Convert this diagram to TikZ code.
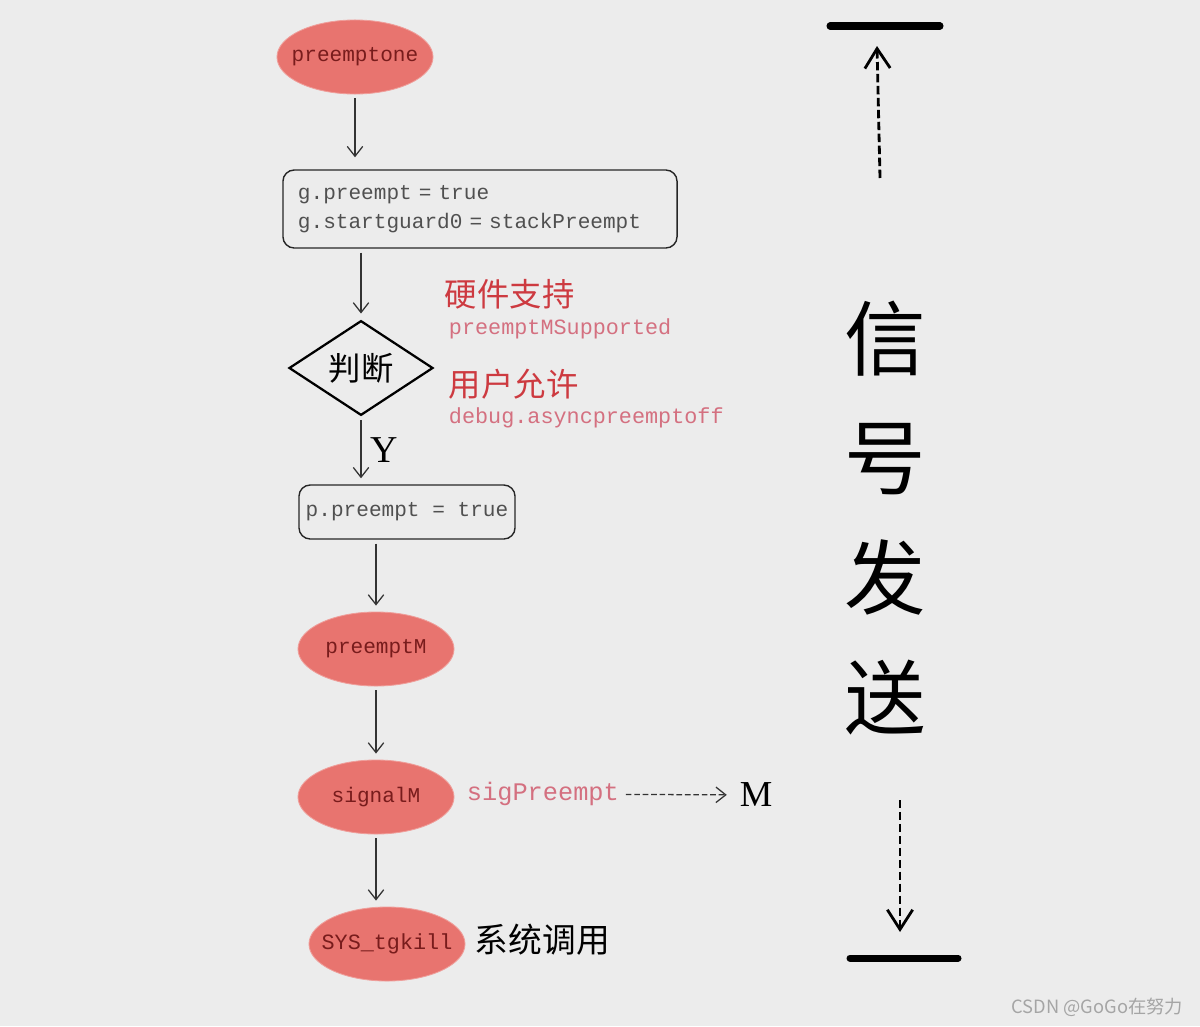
\documentclass[tikz,border=0pt]{standalone}
\usepackage{fontspec}
\setmainfont{Liberation Serif}
\setmonofont{Liberation Mono}
\newfontfamily\cjk{Noto Sans CJK SC}
\usepackage{xcolor}
\usetikzlibrary{shapes.geometric,arrows.meta}
\definecolor{paper}{RGB}{236,236,236}
\definecolor{salmon}{RGB}{232,116,111}
\definecolor{darkred}{RGB}{120,28,28}
\definecolor{labelred}{RGB}{205,58,64}
\definecolor{labelpink}{RGB}{212,112,128}
\definecolor{inkgray}{RGB}{80,80,80}
\definecolor{markgray}{RGB}{165,165,165}

\begin{document}
\begin{tikzpicture}[x=0.025cm, y=-0.025cm,
  func/.style={ellipse, fill=salmon, draw=salmon!70!white, line width=0.6pt,
    minimum width=3.9cm, minimum height=1.85cm, inner xsep=-8pt, inner ysep=0pt,
    font=\ttfamily\fontsize{15}{18}\selectfont, text=darkred},
  stmt/.style={rounded corners=8pt, draw=black!85, line width=1pt,
    font=\ttfamily\fontsize{15}{20.6}\selectfont, text=inkgray},
  cond/.style={diamond, draw=black, line width=1.6pt, minimum width=3.6cm,
    minimum height=2.25cm, inner sep=0pt, font=\cjk\fontsize{23}{26}\selectfont},
  flow/.style={-{Straight Barb[length=7pt,width=11pt]}, line width=0.9pt,
    draw=black!80, shorten <=0.1cm, shorten >=0.15cm},
  note/.style={anchor=west, font=\cjk\fontsize{23}{26}\selectfont, text=labelred},
  code/.style={anchor=west, font=\ttfamily\fontsize{15.5}{18}\selectfont, text=labelpink},
  bar/.style={line width=5pt, line cap=round},
  trail/.style={-{Straight Barb[length=14pt,width=18pt]}, line width=2pt,
    dash pattern=on 6pt off 2.5pt},
]
  \useasboundingbox[fill=paper] (0,0) rectangle (1200,1026);

  % Flow nodes
  \node[func] (PO) at (355,57) {preemptone};
  \node[stmt, minimum width=9.85cm, minimum height=1.95cm, inner xsep=0.375cm,
    text width=9.1cm, align=left] (G) at (480,209)
    {g.preempt = true\\g.startguard0 = stackPreempt};
  \node[cond] (D) at (361,368) {判断};
  \node[stmt, minimum width=5.4cm, minimum height=1.35cm] (P) at (407,512)
    {p.preempt = true};
  \node[func] (PM) at (376,649) {preemptM};
  \node[func] (SM) at (376,797) {signalM};
  \node[func, font=\ttfamily\fontsize{15.5}{18}\selectfont] (SY) at (387,944)
    {SYS\_tgkill};

  % Arrows
  \draw[flow, shorten >=0.3cm] (PO.south) -- (PO.south |- G.north);
  \draw[flow] (D.north |- G.south) -- (D.north);
  \draw[flow] (D.south) -- (D.south |- P.north)
    node[midway, right=3pt, font=\fontsize{27}{28}\selectfont] {Y};
  \draw[flow] (PM.north |- P.south) -- (PM.north);
  \draw[flow] (PM) -- (SM);
  \draw[flow] (SM.south) -- (SM.south |- SY.north);

  % Conditions
  \node[note] (HW) at (440,294) {硬件支持};
  \node[code] (HWc) at (444,329) {preemptMSupported};
  \node[note] (US) at (444,384) {用户允许};
  \node[code] (USc) at (444,418) {debug.asyncpreemptoff};

  % Signal
  \node[code, font=\ttfamily\fontsize{18}{20}\selectfont] (SP) at (462,794) {sigPreempt};
  \node[font=\fontsize{26}{28}\selectfont] (M) at (756,795) {M};
  \draw[-{Straight Barb[length=7pt,width=11pt]}, line width=0.9pt, draw=black!80,
    dash pattern=on 4pt off 2pt, shorten <=0.05cm, shorten >=0.2cm] (SP) -- (M);
  \node[anchor=west, font=\cjk\fontsize{24}{26}\selectfont] (SC) at (470,940) {系统调用};

  % Side marker
  \node[font=\cjk\fontsize{58}{85.3}\selectfont, align=center] (SIG) at (885,518)
    {信\\号\\发\\送};
  \coordinate (TL) at (830,26);
  \coordinate (TR) at (940,26);
  \coordinate (BL) at (850,958);
  \coordinate (BR) at (958,958);
  \coordinate (UpS) at (880,178);
  \coordinate (UpE) at (877,46);
  \coordinate (DnS) at (900,800);
  \coordinate (DnE) at (900,932);
  \draw[bar] (TL) -- (TR);
  \draw[bar] (BL) -- (BR);
  \draw[trail] (UpS) -- (UpE);
  \draw[trail] (DnS) -- (DnE);

  % Watermark
  \node[anchor=east, font=\cjk\fontsize{13}{15}\selectfont, text=markgray] (WM)
    at (1188,1007) {CSDN @GoGo在努力};
\end{tikzpicture}
\end{document}
